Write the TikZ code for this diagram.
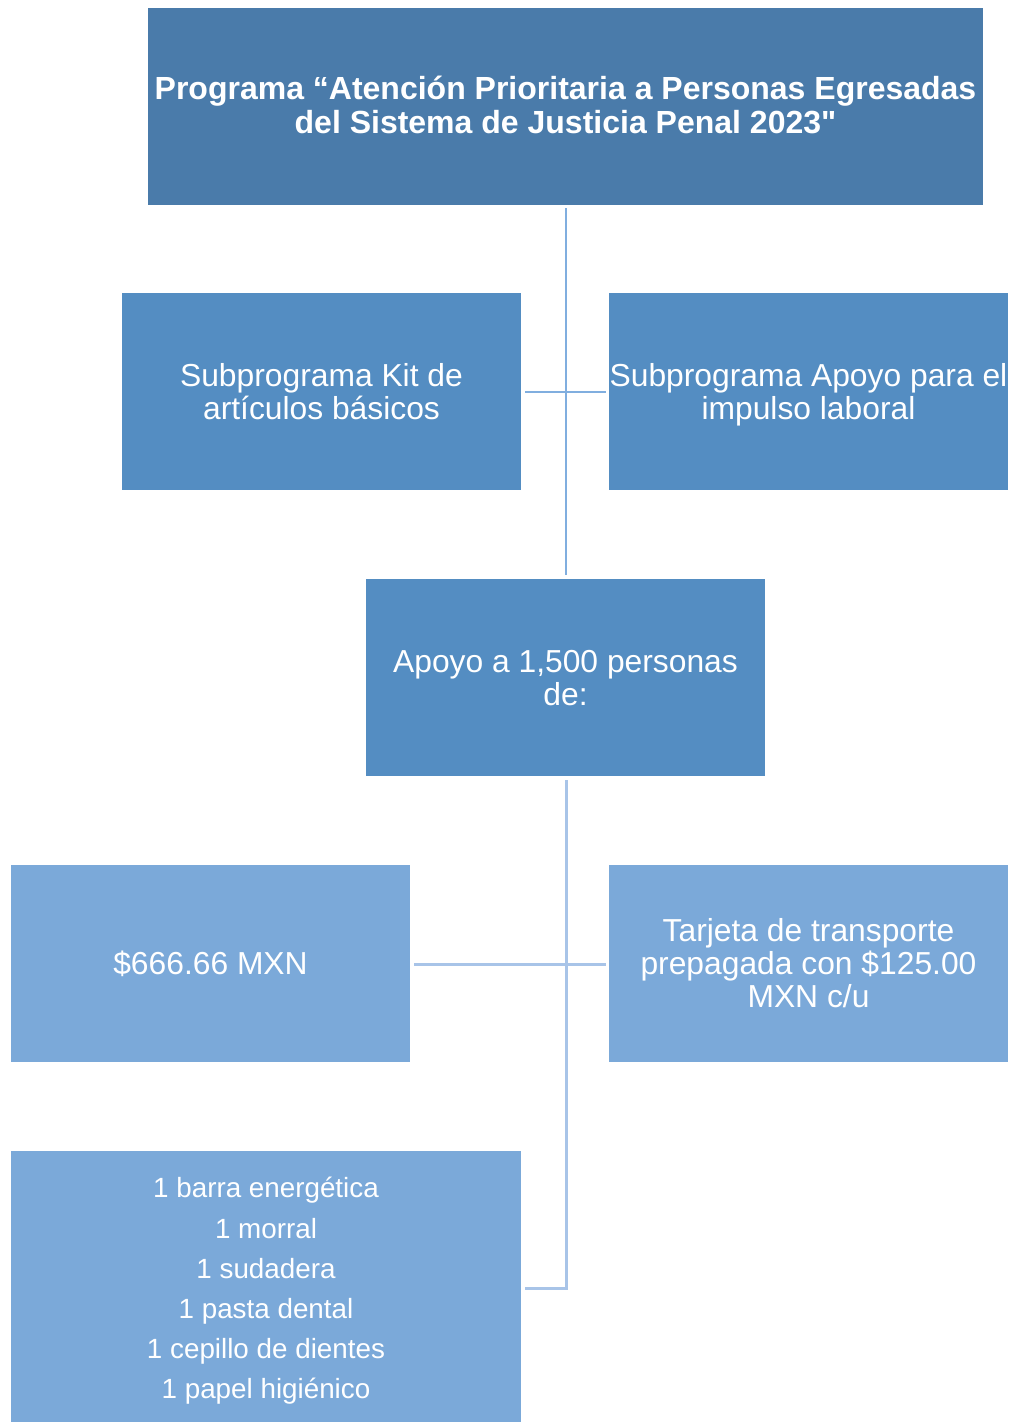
\documentclass[tikz,border=0pt]{standalone}
\usepackage{fontspec}
\setmainfont{Liberation Sans}[Ligatures=TeXOff]
\definecolor{topc}{HTML}{4A7BAA}
\definecolor{midc}{HTML}{548DC2}
\definecolor{lowc}{HTML}{7BA9D9}
\definecolor{lineA}{HTML}{80AEDF}
\definecolor{lineB}{HTML}{A8C4E8}
\begin{document}
\begin{tikzpicture}[x=1pt,y=-1pt,
  box/.style={draw=none,inner sep=0pt,outer sep=0pt,text=white,align=center},
  conA/.style={draw=lineA,line width=2.2pt},
  conB/.style={draw=lineB,line width=3pt}]
\useasboundingbox (0,0) rectangle (1011,1422);
\fill[white] (0,0) rectangle (1011,1422);
% boxes
\fill[topc] (148,8) rectangle (983,205);
\node[box,font=\bfseries\fontsize{32}{34}\selectfont] (top) at (565.5,105) {Programa “Atención Prioritaria a Personas Egresadas\\del Sistema de Justicia Penal 2023"};
\fill[midc] (122,293) rectangle (521,490);
\node[box,font=\fontsize{31.8}{33}\selectfont] (s1) at (321.5,391.5) {Subprograma Kit de\\artículos básicos};
\fill[midc] (609,293) rectangle (1008,490);
\node[box,font=\fontsize{31.8}{33}\selectfont] (s2) at (808.5,394.5) {Subprograma Apoyo para el\\impulso laboral};
\fill[midc] (366,579) rectangle (765,776);
\node[box,font=\fontsize{31.8}{33}\selectfont] (ap) at (565.5,678.5) {Apoyo a 1,500 personas\\de:};
\fill[lowc] (11,865) rectangle (410,1062);
\node[box,font=\fontsize{31.8}{33}\selectfont] (m) at (210.5,963.5) {\$666.66 MXN};
\fill[lowc] (609,865) rectangle (1008,1062);
\node[box,font=\fontsize{31.8}{33}\selectfont] (t) at (808.5,963.5) {Tarjeta de transporte\\prepagada con \$125.00\\MXN c/u};
\fill[lowc] (11,1151) rectangle (521,1422);
\node[box,font=\fontsize{27.8}{40.2}\selectfont] (l) at (266,1291) {1 barra energética\\1 morral\\1 sudadera\\1 pasta dental\\1 cepillo de dientes\\1 papel higiénico};
% connector coordinates
\coordinate (a1) at (566,208);
\coordinate (a2) at (566,575);
\coordinate (h1) at (525,392);
\coordinate (h2) at (606,392);
\coordinate (b1) at (566,780);
\coordinate (b2) at (566,1288);
\coordinate (g1) at (414,964);
\coordinate (g2) at (606,964);
\coordinate (k1) at (525,1288);
\draw[conA] (a1) -- (a2);
\draw[conA] (h1) -- (h2);
\draw[conB] (b1) -- (b2) -- (k1);
\draw[conB] (g1) -- (g2);
\end{tikzpicture}
\end{document}
